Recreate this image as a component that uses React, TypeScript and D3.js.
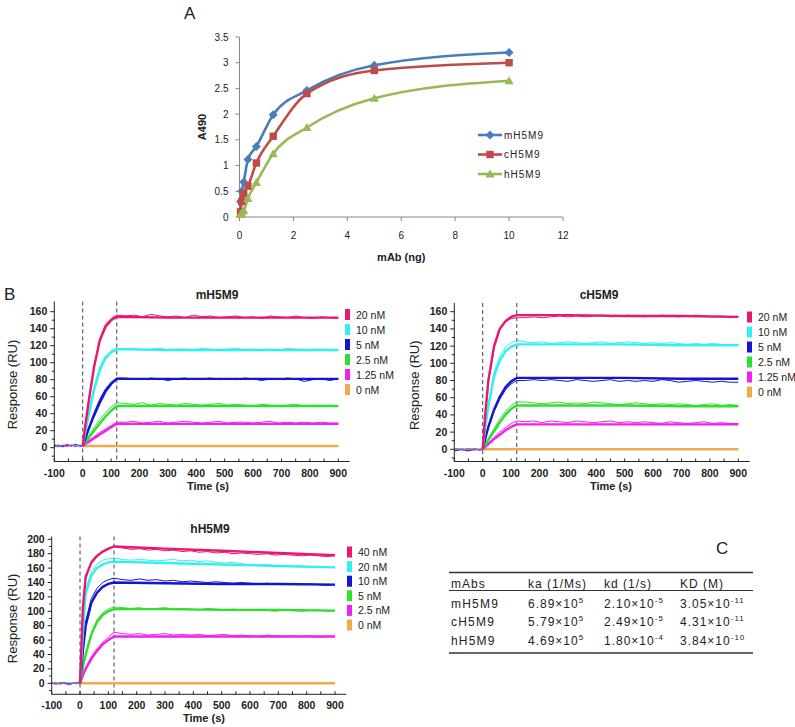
import React from 'react';
import * as d3 from 'd3';

const FONT = "Arial, 'Liberation Sans', Helvetica, sans-serif";

// ---------- Panel A : ELISA ----------
const ELISA_X = [0.039, 0.078, 0.156, 0.3125, 0.625, 1.25, 2.5, 5, 10];
const ELISA_M = [0.3, 0.5, 0.68, 1.12, 1.37, 1.99, 2.46, 2.95, 3.2];
const ELISA_C = [0.1, 0.3, 0.45, 0.6, 1.05, 1.57, 2.4, 2.85, 3.0];
const ELISA_H = [0.05, 0.08, 0.12, 0.36, 0.67, 1.23, 1.74, 2.31, 2.65];
const ELISA_NAMES = ['mH5M9', 'cH5M9', 'hH5M9'];
const ELISA_COLORS = ['#4a7ebb', '#be4b48', '#98b954'];
const A_X_TICKS = [0, 2, 4, 6, 8, 10, 12];
const A_Y_TICKS = [0, 0.5, 1, 1.5, 2, 2.5, 3, 3.5];

// ---------- Panel B : SPR sensorgrams ----------
const FIT_T = [0, 10, 20, 40, 60, 80, 100, 120, 300, 500, 700, 900];
const DATA_T = [-100, -85, -70, -55, -40, -25, -10, 0, 10, 20, 40, 60, 80, 100, 120,
  150, 180, 210, 240, 270, 300, 330, 360, 390, 420, 450, 480, 510, 540, 570, 600,
  630, 660, 690, 720, 750, 780, 810, 840, 870, 900];
const SPR_COLORS = ['#e8176f', '#33f0f0', '#1414d4', '#2ee02e', '#f020f0', '#f4a849'];
const X_LABELS = [-100, 0, 100, 200, 300, 400, 500, 600, 700, 800, 900];

// mH5M9
const M_CONC = ['20 nM', '10 nM', '5 nM', '2.5 nM', '1.25 nM', '0 nM'];
const M_FIT_1 = [2, 28, 52, 95, 126, 142, 150, 154, 153, 153, 153, 153];
const M_FIT_2 = [2, 20, 37, 68, 91, 105, 112, 116, 115, 115, 115, 115];
const M_FIT_3 = [2, 11.5, 21, 38, 53, 66, 75, 81, 81, 81, 81, 81];
const M_FIT_4 = [2, 6.5, 11, 20, 28.5, 36.5, 43.5, 49, 49, 49, 49, 49];
const M_FIT_5 = [2, 4.3, 6.6, 11.2, 15.6, 19.8, 24, 28, 28, 28, 28, 28];
const M_FIT_6 = [2, 2, 2, 2, 2, 2, 2, 2, 2, 2, 2, 2];
const M_DAT_1 = [1, 3, 2, 4, 2, 3, 2, 2, 28, 53, 96, 128, 145, 152, 156,
  155, 156, 154, 157, 155, 154, 155, 153, 156, 154, 155, 153, 154, 155, 153, 154, 152, 155, 154, 153, 155, 153, 152, 154, 153, 152];
const M_DAT_2 = [3, 1, 3, 2, 4, 2, 3, 2, 21, 39, 72, 95, 108, 114, 117,
  116, 117, 115, 116, 117, 115, 116, 116, 115, 117, 116, 115, 116, 117, 115, 116, 114, 116, 115, 117, 116, 114, 115, 116, 114, 115];
const M_DAT_3 = [2, 3, 1, 3, 2, 4, 2, 2, 12, 23, 41, 57, 69, 77, 82,
  82, 81, 80, 82, 81, 79, 81, 82, 80, 81, 82, 80, 81, 80, 82, 81, 79, 81, 80, 82, 81, 78, 80, 81, 79, 81];
const M_DAT_4 = [4, 2, 3, 1, 3, 2, 3, 2, 8, 14, 24, 33, 41, 48, 53,
  52, 51, 53, 50, 52, 51, 50, 52, 51, 50, 51, 52, 50, 51, 50, 49, 51, 50, 49, 50, 51, 49, 50, 49, 50, 49];
const M_DAT_5 = [2, 1, 3, 2, 3, 1, 3, 2, 5, 8, 13, 18, 22, 26, 30,
  30, 31, 29, 30, 31, 29, 30, 31, 30, 29, 30, 31, 29, 30, 30, 29, 30, 31, 29, 30, 29, 30, 29, 30, 29, 29];

// cH5M9
const C_CONC = ['20 nM', '10 nM', '5 nM', '2.5 nM', '1.25 nM', '0 nM'];
const C_FIT_1 = [0, 45, 80, 120, 140, 149, 154, 156, 156, 155, 155, 154];
const C_FIT_2 = [0, 28, 50, 85, 103, 114, 119, 122, 122, 122, 121, 121];
const C_FIT_3 = [0, 14, 26, 46, 61, 72, 79, 83, 83, 83, 82, 82];
const C_FIT_4 = [0, 6, 11, 21, 31, 40, 47, 51, 51, 51, 50, 50];
const C_FIT_5 = [0, 3, 6, 12, 17, 22, 26, 29, 29, 29, 29, 29];
const C_FIT_6 = [0, 0, 0, 0, 0, 0, 0, 0, 0, 0, 0, 0];
const C_DAT_1 = [-1, 0, 1, -1, 0, 1, -1, 0, 42, 78, 118, 139, 148, 152, 153,
  153, 154, 153, 154, 155, 154, 155, 154, 155, 156, 154, 155, 156, 155, 154, 155, 156, 155, 154, 155, 156, 155, 154, 155, 153, 154];
const C_DAT_2 = [0, -1, 1, 0, -1, 0, 1, 0, 30, 54, 90, 108, 119, 124, 127,
  125, 124, 125, 123, 124, 125, 124, 123, 124, 125, 123, 124, 125, 124, 123, 124, 123, 124, 123, 122, 123, 122, 123, 122, 121, 122];
const C_DAT_3 = [-2, -1, 0, -2, -1, 0, -1, 0, 13, 25, 44, 58, 69, 76, 80,
  80, 81, 80, 81, 80, 79, 81, 80, 79, 80, 81, 79, 80, 79, 80, 79, 81, 80, 78, 79, 80, 79, 78, 79, 78, 78];
const C_DAT_4 = [0, 1, -1, 0, 1, 0, -1, 0, 7, 13, 24, 35, 44, 51, 55,
  55, 54, 53, 54, 55, 53, 54, 53, 55, 54, 53, 52, 53, 54, 53, 52, 53, 52, 53, 52, 51, 52, 53, 51, 52, 51];
const C_DAT_5 = [1, 0, -1, 1, 0, -1, 0, 0, 4, 7, 14, 20, 25, 30, 33,
  32, 33, 31, 33, 32, 31, 33, 32, 31, 32, 33, 31, 32, 31, 32, 31, 30, 32, 31, 30, 31, 32, 30, 31, 30, 30];

// hH5M9
const H_CONC = ['40 nM', '20 nM', '10 nM', '5 nM', '2.5 nM', '0 nM'];
const H_FIT_1 = [0, 105, 148, 168, 177, 183, 187, 190, 187, 184, 181, 178];
const H_FIT_2 = [0, 70, 125, 150, 160, 165, 168, 169, 167, 165, 163, 161];
const H_FIT_3 = [0, 45, 80, 112, 126, 134, 138, 140, 139, 138, 138, 137];
const H_FIT_4 = [0, 22, 40, 68, 85, 95, 100, 103, 103, 102, 102, 101];
const H_FIT_5 = [0, 11, 20, 34, 45, 54, 60, 65, 65, 65, 65, 65];
const H_FIT_6 = [0, 0, 0, 0, 0, 0, 0, 0, 0, 0, 0, 0];
const H_DAT_1 = [0, 1, -1, 0, -2, 0, 1, 0, 100, 146, 167, 176, 182, 186, 190,
  188, 186, 187, 185, 186, 184, 185, 183, 184, 182, 183, 181, 182, 180, 181, 180, 179, 180, 178, 179, 178, 177, 178, 177, 176, 177];
const H_DAT_2 = [1, 0, 1, -1, 0, 1, 0, 0, 72, 130, 156, 166, 171, 173, 174,
  172, 171, 172, 171, 170, 171, 172, 170, 171, 169, 170, 168, 167, 168, 166, 165, 164, 165, 163, 164, 162, 163, 161, 162, 161, 161];
const H_DAT_3 = [0, -1, 0, 1, -1, 0, 1, 0, 48, 86, 118, 132, 140, 144, 146,
  144, 143, 145, 143, 144, 142, 143, 141, 142, 141, 140, 141, 140, 139, 140, 139, 138, 139, 138, 137, 138, 137, 138, 137, 136, 137];
const H_DAT_4 = [1, 0, -1, 0, 1, 0, -1, 0, 23, 42, 70, 88, 98, 103, 106,
  105, 104, 105, 103, 104, 105, 103, 104, 103, 102, 104, 103, 102, 103, 102, 101, 102, 101, 100, 102, 101, 100, 101, 102, 100, 101];
const H_DAT_5 = [0, -1, 1, 0, -2, 0, 1, 0, 12, 22, 37, 48, 57, 64, 71,
  69, 68, 69, 67, 68, 69, 67, 68, 67, 68, 66, 67, 68, 66, 67, 66, 65, 67, 66, 65, 66, 65, 66, 64, 65, 65];

// ---------- Panel C : table ----------
const TABLE_HEAD = ['mAbs', 'ka (1/Ms)', 'kd (1/s)', 'KD (M)'];
const TABLE_MABS = ['mH5M9', 'cH5M9', 'hH5M9'];
const KA_MANT = ['6.89', '5.79', '4.69'];
const KA_EXP = ['5', '5', '5'];
const KD_MANT = ['2.10', '2.49', '1.80'];
const KD_EXP = ['-5', '-5', '-4'];
const KDM_MANT = ['3.05', '4.31', '3.84'];
const KDM_EXP = ['-11', '-11', '-10'];

type SprProps = {
  title: string;
  xr: [number, number];
  yDom: [number, number];
  yr: [number, number];
  axisTop: number;
  axisBottom: number;
  yMax: number;
  conc: string[];
  fits: number[][];
  datas: number[][];
  legendX: number;
  legendY: number;
  legendStep: number;
  titleX: number;
  titleY: number;
  timeX: number;
  labelX: number;
};

function SprPlot(p: SprProps) {
  const xs = d3.scaleLinear().domain([-100, 900]).range(p.xr);
  const ys = d3.scaleLinear().domain(p.yDom).range(p.yr);
  const x0 = xs(-100);
  const xEnd = xs(940);
  const line = d3.line<[number, number]>().x(d => xs(d[0])).y(d => ys(d[1]));
  const major = d3.range(0, p.yMax + 1, 20);
  const minor = d3.range(-10, p.yMax + 1, 10).filter(v => v % 20 !== 0 && ys(v) >= p.axisTop);
  const xMinor = d3.range(-100, 901, 50);
  const bottomY = p.axisBottom;
  return (
    <g fontFamily={FONT}>
      {[0, 120].map(t => (
        <line key={t} x1={xs(t)} x2={xs(t)} y1={p.axisTop} y2={bottomY} stroke="#444" strokeWidth={1} strokeDasharray="4,3" />
      ))}
      {p.datas.map((arr, i) => (
        <path key={'d' + i} d={line(DATA_T.map((t, j) => [t, arr[j]]) as [number, number][]) || ''} fill="none" stroke={SPR_COLORS[i]} strokeWidth={1} />
      ))}
      {p.fits.slice().reverse().map((arr, ri) => {
        const i = p.fits.length - 1 - ri;
        return (
          <path key={'f' + i} d={line(FIT_T.map((t, j) => [t, arr[j]]) as [number, number][]) || ''} fill="none" stroke={SPR_COLORS[i]} strokeWidth={2.4} strokeLinejoin="round" />
        );
      })}
      <line x1={x0} x2={x0} y1={p.axisTop} y2={bottomY} stroke="#222" strokeWidth={1} />
      <line x1={x0} x2={xEnd} y1={bottomY} y2={bottomY} stroke="#222" strokeWidth={1} />
      {major.map(v => (
        <g key={'ym' + v}>
          <line x1={x0 - 4} x2={x0} y1={ys(v)} y2={ys(v)} stroke="#222" />
          <text x={x0 - 7} y={ys(v) + 3.5} textAnchor="end" fontSize={10.5} fontWeight="bold" fill="#222">{v}</text>
        </g>
      ))}
      {minor.map(v => (
        <line key={'yn' + v} x1={x0 - 2.5} x2={x0} y1={ys(v)} y2={ys(v)} stroke="#222" />
      ))}
      {xMinor.map(v => (
        <line key={'xt' + v} x1={xs(v)} x2={xs(v)} y1={bottomY} y2={bottomY - 3} stroke="#222" />
      ))}
      {X_LABELS.map(v => (
        <text key={'xl' + v} x={xs(v)} y={bottomY + 15} textAnchor="middle" fontSize={10.5} fontWeight="bold" fill="#222">{v}</text>
      ))}
      <text x={p.timeX} y={bottomY + 28} textAnchor="middle" fontSize={11} fontWeight="bold" fill="#222">Time (s)</text>
      <text transform={`translate(${p.labelX},${(p.axisTop + bottomY) / 2 + 3}) rotate(-90)`} textAnchor="middle" fontSize={13} fill="#222">Response (RU)</text>
      <text x={p.titleX} y={p.titleY} textAnchor="middle" fontSize={12} fontWeight="bold" fill="#222">{p.title}</text>
      {p.conc.map((c, i) => (
        <g key={'lg' + i}>
          <rect x={p.legendX} y={p.legendY + i * p.legendStep - 5.5} width={5} height={11} fill={SPR_COLORS[i]} />
          <text x={p.legendX + 11} y={p.legendY + i * p.legendStep + 4} fontSize={10.5} fill="#222">{c}</text>
        </g>
      ))}
    </g>
  );
}

function PanelA() {
  const xs = d3.scaleLinear().domain([0, 12]).range([239.5, 563]);
  const ys = d3.scaleLinear().domain([0, 3.5]).range([217, 37]);
  const line = d3.line<[number, number]>().x(d => xs(d[0])).y(d => ys(d[1])).curve(d3.curveMonotoneX);
  const series = [ELISA_M, ELISA_C, ELISA_H];
  const marker = (k: number, x: number, y: number, key: string) => {
    const c = ELISA_COLORS[k];
    if (k === 0) return <path key={key} d={`M${x},${y - 4.5}L${x + 4.5},${y}L${x},${y + 4.5}L${x - 4.5},${y}Z`} fill={c} />;
    if (k === 1) return <rect key={key} x={x - 3.7} y={y - 3.7} width={7.4} height={7.4} fill={c} />;
    return <path key={key} d={`M${x},${y - 4.5}L${x + 4.6},${y + 3.5}L${x - 4.6},${y + 3.5}Z`} fill={c} />;
  };
  return (
    <g fontFamily={FONT}>
      <text x={184} y={19} fontSize={17} fill="#222">A</text>
      <line x1={xs(0)} x2={xs(0)} y1={ys(3.5)} y2={ys(0)} stroke="#888" />
      <line x1={xs(0)} x2={xs(12)} y1={ys(0)} y2={ys(0)} stroke="#888" />
      {A_Y_TICKS.map(v => (
        <g key={'ay' + v}>
          <line x1={xs(0) - 4} x2={xs(0)} y1={ys(v)} y2={ys(v)} stroke="#888" />
          <text x={xs(0) - 11} y={ys(v) + 3.5} textAnchor="end" fontSize={10} fill="#222">{v}</text>
        </g>
      ))}
      {A_X_TICKS.map(v => (
        <g key={'ax' + v}>
          <line x1={xs(v)} x2={xs(v)} y1={ys(0)} y2={ys(0) + 4} stroke="#888" />
          <text x={xs(v)} y={ys(0) + 22} textAnchor="middle" fontSize={10} fill="#222">{v}</text>
        </g>
      ))}
      <text transform={`translate(206,127) rotate(-90)`} textAnchor="middle" fontSize={11} fontWeight="bold" fill="#222">A490</text>
      <text x={xs(6)} y={261} textAnchor="middle" fontSize={11} fontWeight="bold" fill="#222">mAb (ng)</text>
      {series.map((s, k) => (
        <path key={'al' + k} d={line(ELISA_X.map((x, j) => [x, s[j]]) as [number, number][]) || ''} fill="none" stroke={ELISA_COLORS[k]} strokeWidth={2.6} />
      ))}
      {series.map((s, k) => ELISA_X.map((x, j) => marker(k, xs(x), ys(s[j]), `m${k}-${j}`)))}
      {ELISA_NAMES.map((n, k) => {
        const y = 135 + k * 19.5;
        return (
          <g key={'leg' + k}>
            <line x1={478} x2={502} y1={y} y2={y} stroke={ELISA_COLORS[k]} strokeWidth={2.6} />
            {marker(k, 490, y, 'lm' + k)}
            <text x={504} y={y + 3.5} fontSize={10} letterSpacing={1} fill="#222">{n}</text>
          </g>
        );
      })}
    </g>
  );
}

function PanelC() {
  const cols = [451, 528, 604, 680];
  const rowsY = [607.5, 626, 644.5];
  const sci = (m: string, e: string, x: number, y: number, key: string) => (
    <text key={key} x={x} y={y} fontSize={12} letterSpacing={1} fill="#222">
      {m}×10<tspan dy={-5} fontSize={8}>{e}</tspan>
    </text>
  );
  return (
    <g fontFamily={FONT}>
      <text x={716} y={554} fontSize={17} fill="#222">C</text>
      <line x1={449} x2={753} y1={572.5} y2={572.5} stroke="#333" strokeWidth={1.5} />
      {TABLE_HEAD.map((h, i) => (
        <text key={'h' + i} x={cols[i]} y={588} fontSize={12} letterSpacing={1} fill="#222">{h}</text>
      ))}
      <line x1={449} x2={753} y1={590.5} y2={590.5} stroke="#333" strokeWidth={1} />
      {TABLE_MABS.map((m, r) => (
        <g key={'r' + r}>
          <text x={cols[0]} y={rowsY[r]} fontSize={12} letterSpacing={1.2} fill="#222">{m}</text>
          {sci(KA_MANT[r], KA_EXP[r], cols[1], rowsY[r], 'ka' + r)}
          {sci(KD_MANT[r], KD_EXP[r], cols[2], rowsY[r], 'kd' + r)}
          {sci(KDM_MANT[r], KDM_EXP[r], cols[3], rowsY[r], 'KD' + r)}
        </g>
      ))}
      <line x1={449} x2={753} y1={653} y2={653} stroke="#333" strokeWidth={1.5} />
    </g>
  );
}

export default function App() {
  return (
    <svg width={795} height={727} viewBox="0 0 795 727" style={{ position: 'absolute', left: 0, top: 0, background: '#fff' }}>
      <rect x={0} y={0} width={795} height={727} fill="#fff" />
      <PanelA />
      <text x={4} y={300} fontSize={17} fontFamily={FONT} fill="#222">B</text>
      <SprPlot title="mH5M9" xr={[54.3, 338.3]} yDom={[0, 160]} yr={[447.7, 311.7]} axisTop={301.5} axisBottom={461.5} yMax={160}
        conc={M_CONC} fits={[M_FIT_1, M_FIT_2, M_FIT_3, M_FIT_4, M_FIT_5, M_FIT_6]} datas={[M_DAT_1, M_DAT_2, M_DAT_3, M_DAT_4, M_DAT_5]}
        legendX={345} legendY={314.5} legendStep={15} titleX={217} titleY={299} timeX={208} labelX={17} />
      <SprPlot title="cH5M9" xr={[454.3, 738.3]} yDom={[0, 160]} yr={[449.3, 311.7]} axisTop={303} axisBottom={461.5} yMax={160}
        conc={C_CONC} fits={[C_FIT_1, C_FIT_2, C_FIT_3, C_FIT_4, C_FIT_5, C_FIT_6]} datas={[C_DAT_1, C_DAT_2, C_DAT_3, C_DAT_4, C_DAT_5]}
        legendX={747} legendY={317} legendStep={15} titleX={599} titleY={299} timeX={611} labelX={419} />
      <SprPlot title="hH5M9" xr={[51.7, 335]} yDom={[0, 200]} yr={[683.3, 539.3]} axisTop={536.5} axisBottom={694.3} yMax={200}
        conc={H_CONC} fits={[H_FIT_1, H_FIT_2, H_FIT_3, H_FIT_4, H_FIT_5, H_FIT_6]} datas={[H_DAT_1, H_DAT_2, H_DAT_3, H_DAT_4, H_DAT_5]}
        legendX={347} legendY={552} legendStep={14.6} titleX={210} titleY={533} timeX={204} labelX={17} />
      <PanelC />
    </svg>
  );
}
